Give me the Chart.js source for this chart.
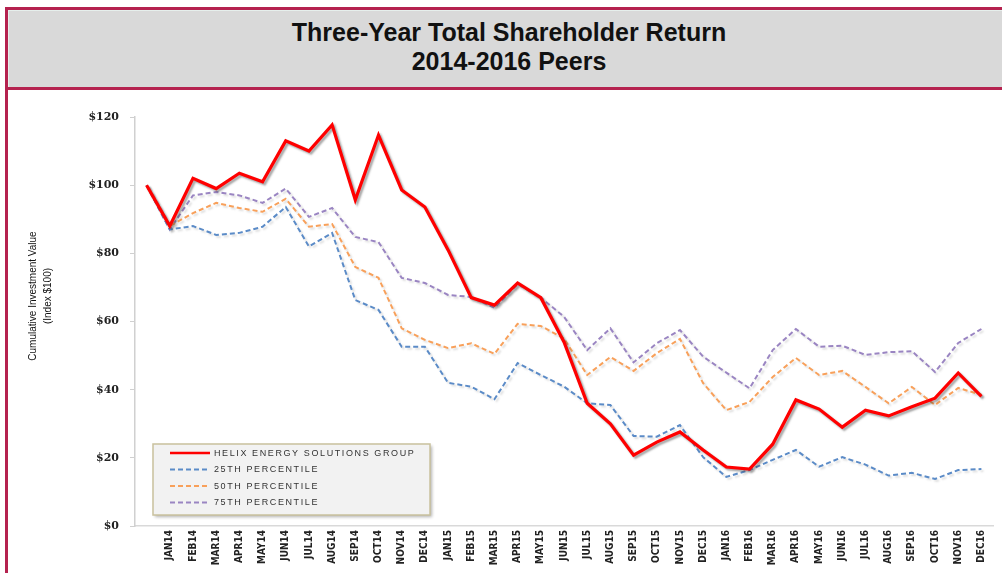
<!DOCTYPE html>
<html>
<head>
<meta charset="utf-8">
<script src="https://cdn.jsdelivr.net/npm/chart.js@4"></script>
<style>
  body { margin: 0; width: 1002px; height: 573px; overflow: hidden; background: #fff; position: relative; font-family: "Liberation Sans", Arial, sans-serif; }
  #frame { position: absolute; left: 5px; top: 7px; width: 1100px; height: 600px; border-left: 3px solid #b5224f; border-top: 3px solid #b5224f; }
  #head { position: absolute; left: 8px; top: 10px; width: 1100px; height: 77px; background: #d9d9d9; border-bottom: 3px solid #b5224f; box-shadow: inset 1px 1px 0 #e6efec; }
  #head div { position: absolute; left: 0; width: 1002px; text-align: center; font-weight: bold; font-size: 25px; color: #111; }
  #wrap { position: absolute; left: 8px; top: 91px; width: 994px; height: 482px; }
</style>
</head>
<body>
<div id="frame"></div>
<div id="head">
  <div style="top:8px">Three-Year Total Shareholder Return</div>
  <div style="top:37px">2014-2016 Peers</div>
</div>
<div id="wrap"><canvas id="tsr"></canvas></div>
<script>
// Data
const months = ["", "JAN14", "FEB14", "MAR14", "APR14", "MAY14", "JUN14", "JUL14", "AUG14", "SEP14", "OCT14", "NOV14", "DEC14",
  "JAN15", "FEB15", "MAR15", "APR15", "MAY15", "JUN15", "JUL15", "AUG15", "SEP15", "OCT15", "NOV15", "DEC15",
  "JAN16", "FEB16", "MAR16", "APR16", "MAY16", "JUN16", "JUL16", "AUG16", "SEP16", "OCT16", "NOV16", "DEC16"];

const helix = [100, 88, 102, 99, 103.5, 101, 113, 110, 117.7, 95.7, 114.7, 98.6, 93.6,
  81, 67, 64.8, 71.3, 67, 54, 36, 30, 20.8, 24.6, 27.6, 22.3,
  17.3, 16.7, 24, 37, 34.3, 29, 34, 32.3, 35, 37.5, 44.9, 38];
const p25 = [100, 87, 88, 85.4, 86, 87.8, 93.6, 82, 86, 66.3, 63.4, 52.6, 52.6,
  42, 40.9, 37.2, 47.8, 44.3, 40.9, 36, 35.5, 26.4, 26.2, 29.6, 20.2,
  14.4, 16.4, 19.4, 22.3, 17.4, 20.2, 18, 14.8, 15.6, 13.8, 16.4, 16.7];
const p50 = [100, 88, 91.8, 94.8, 93.3, 92.2, 96, 87.8, 88.6, 76, 72.8, 58, 54.6,
  52.2, 53.6, 50.5, 59.3, 58.7, 55, 44.3, 49.6, 45.5, 50.7, 54.9, 41.9,
  34, 36.4, 43.7, 49.3, 44.3, 45.5, 40.8, 36, 40.8, 35.5, 40.5, 38.5];
const p75 = [100, 87, 97, 98, 97, 94.8, 99, 90.7, 93.3, 84.8, 83.3, 72.8, 71.3,
  67.8, 67.2, 64, 71, 67, 61.4, 51.6, 58, 48, 53.6, 57.5, 49.7,
  45, 40.4, 51.6, 57.8, 52.6, 52.9, 50.2, 51, 51.3, 45.2, 53.7, 57.8];

const seriesNames = ["HELIX ENERGY SOLUTIONS GROUP", "25TH PERCENTILE", "50TH PERCENTILE", "75TH PERCENTILE"];
const yTicks = [0, 20, 40, 60, 80, 100, 120];
const yTitle = ["Cumulative Investment Value", "(Index $100)"];

// drop shadow under the lines, like the Excel original
const lineShadow = {
  id: "lineShadow",
  beforeDatasetDraw(chart, args) {
    const ctx = chart.ctx;
    ctx.save();
    ctx.shadowColor = args.index === 0 ? "rgba(60,60,60,0.45)" : "rgba(90,90,90,0.2)";
    ctx.shadowOffsetX = 2;
    ctx.shadowOffsetY = 2;
    ctx.shadowBlur = 2;
  },
  afterDatasetDraw(chart) {
    chart.ctx.restore();
  }
};

// boxed legend inside the plot + y title placed a bit above centre
const extras = {
  id: "extras",
  afterDraw(chart) {
    const ctx = chart.ctx;
    const a = chart.chartArea;

    // y axis title
    ctx.save();
    ctx.translate(25, 205);
    ctx.rotate(-Math.PI / 2);
    ctx.fillStyle = "#111";
    ctx.font = "10px 'Liberation Sans', Arial, sans-serif";
    ctx.textAlign = "center";
    ctx.textBaseline = "middle";
    ctx.fillText(yTitle[0], 0, 0);
    ctx.fillText(yTitle[1], 0, 15);
    ctx.restore();

    // legend
    const x = a.left + 18, y = a.bottom - 82, w = 277, h = 71;
    ctx.save();
    ctx.shadowColor = "rgba(0,0,0,0.3)";
    ctx.shadowOffsetX = 2;
    ctx.shadowOffsetY = 2;
    ctx.shadowBlur = 3;
    ctx.fillStyle = "#f2f2f2";
    ctx.fillRect(x, y, w, h);
    ctx.shadowColor = "transparent";
    ctx.strokeStyle = "#c9c19d";
    ctx.lineWidth = 1.5;
    ctx.strokeRect(x, y, w, h);
    chart.data.datasets.forEach((ds, i) => {
      const ry = y + 9 + i * 16.5;
      ctx.strokeStyle = ds.borderColor;
      ctx.lineWidth = i === 0 ? 2.5 : 2;
      ctx.setLineDash(ds.borderDash || []);
      ctx.beginPath();
      ctx.moveTo(x + 17, ry);
      ctx.lineTo(x + 57, ry);
      ctx.stroke();
      ctx.setLineDash([]);
      ctx.fillStyle = "#333";
      ctx.font = "9px 'Liberation Sans', Arial, sans-serif";
      ctx.letterSpacing = "1.6px";
      ctx.textBaseline = "middle";
      ctx.fillText(ds.label, x + 61, ry + 0.5);
    });
    ctx.restore();
  }
};

const ctx = document.getElementById("tsr").getContext("2d");
const myChart = new Chart(ctx, {
  type: "line",
  data: {
    labels: months,
    datasets: [
      { label: seriesNames[0], data: helix, borderColor: "#ff0000", borderWidth: 3.2 },
      { label: seriesNames[1], data: p25, borderColor: "#5b8bc7", borderWidth: 2, borderDash: [5, 3] },
      { label: seriesNames[2], data: p50, borderColor: "#f8a05a", borderWidth: 2, borderDash: [5, 3] },
      { label: seriesNames[3], data: p75, borderColor: "#9a85c2", borderWidth: 2, borderDash: [5, 3] }
    ]
  },
  options: {
    responsive: true,
    maintainAspectRatio: false,
    animation: false,
    elements: { point: { radius: 0 }, line: { tension: 0, borderJoinStyle: "miter" } },
    layout: { padding: { top: 26, right: 9, left: 0, bottom: 0 } },
    plugins: {
      legend: { display: false },
      title: { display: false },
      tooltip: { enabled: false }
    },
    scales: {
      x: {
        offset: true,
        afterFit(scale) { scale.height = 47; },
        grid: { drawOnChartArea: false, drawTicks: false },
        border: { color: "#d9d9d9", width: 1.5 },
        ticks: {
          autoSkip: false, minRotation: 90, maxRotation: 90, padding: 4,
          color: "#222",
          font: { family: "'Liberation Sans Narrow', 'DejaVu Sans Condensed', 'Liberation Sans'", size: 10, weight: "bold" }
        }
      },
      y: {
        min: 0,
        max: 120,
        afterFit(scale) { scale.width = 127; },
        afterBuildTicks(scale) { scale.ticks = yTicks.map(v => ({ value: v })); },
        grid: { drawOnChartArea: false, drawTicks: true, tickLength: 5, color: "#d0d0d0" },
        border: { color: "#d0d0d0", width: 1.5 },
        ticks: {
          padding: 11,
          color: "#222",
          font: { family: "'DejaVu Serif', 'Liberation Serif', serif", size: 11, weight: "bold" },
          callback: v => "$" + v
        }
      }
    }
  },
  plugins: [lineShadow, extras]
});
</script>
</body>
</html>
